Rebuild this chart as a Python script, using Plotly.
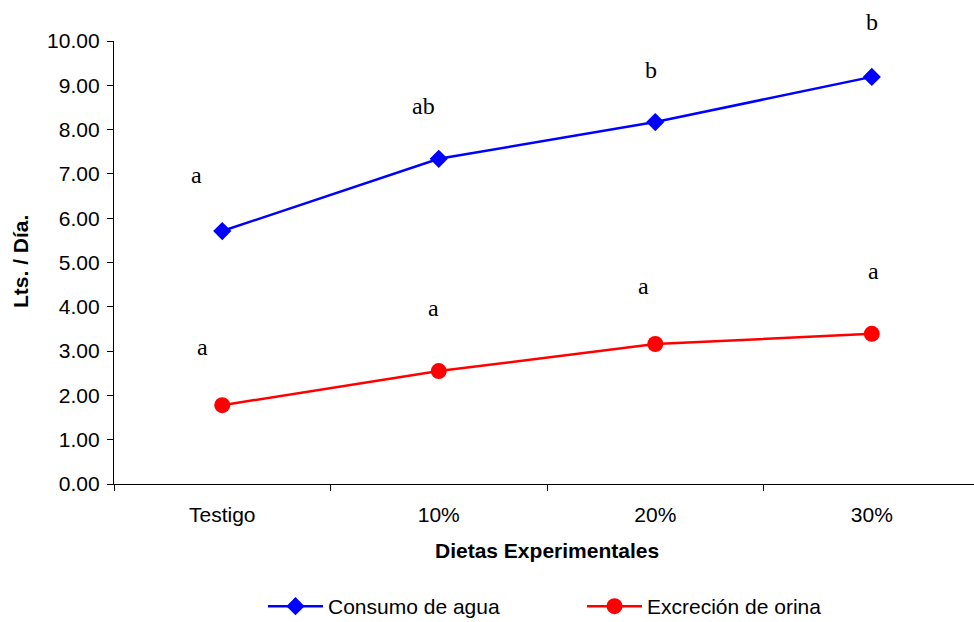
import plotly.graph_objects as go

categories = ["Testigo", "10%", "20%", "30%"]
consumo_agua = [5.71, 7.34, 8.17, 9.19]
excrecion_orina = [1.78, 2.55, 3.16, 3.39]

letras_consumo = ["a", "ab", "b", "b"]
letras_orina = ["a", "a", "a", "a"]
letras_consumo_y = [6.98, 8.53, 9.35, 10.43]
letras_orina_y = [3.09, 3.97, 4.47, 4.81]
letras_consumo_dx = [-0.12, -0.07, -0.02, 0.0]
letras_orina_dx = [-0.09, -0.025, -0.055, 0.01]

Y_MAX = 10

SANS = "Liberation Sans, Arial, sans-serif"
SERIF = "Liberation Serif, Times New Roman, serif"

fig = go.Figure()
fig.add_trace(go.Scatter(
    x=categories, y=consumo_agua, mode="lines+markers", name="Consumo de agua",
    line=dict(color="#0000FF", width=2.5),
    marker=dict(symbol="diamond", size=14, color="#0000FF"),
    cliponaxis=False,
))
fig.add_trace(go.Scatter(
    x=categories, y=excrecion_orina, mode="lines+markers", name="Excreción de orina",
    line=dict(color="#FF0000", width=2.5),
    marker=dict(symbol="circle", size=16, color="#FF0000"),
    cliponaxis=False,
))

annotations = []
for letters, ys, dxs in ((letras_consumo, letras_consumo_y, letras_consumo_dx),
                         (letras_orina, letras_orina_y, letras_orina_dx)):
    for i, (t, yv) in enumerate(zip(letters, ys)):
        annotations.append(dict(x=i + dxs[i], y=yv / Y_MAX, xref="x", yref="paper", text=t,
                                showarrow=False, font=dict(family=SERIF, size=24, color="black"),
                                xanchor="center", yanchor="middle"))

# axis titles
annotations.append(dict(x=(547 - 114) / 860, y=(484 - 550) / 443, xref="paper", yref="paper",
                        text="<b>Dietas Experimentales</b>", showarrow=False,
                        font=dict(family=SANS, size=21, color="black"),
                        xanchor="center", yanchor="middle"))
annotations.append(dict(x=(20 - 114) / 860, y=(484 - 262) / 443, xref="paper", yref="paper",
                        text="<b>Lts. / Día.</b>", showarrow=False, textangle=-90,
                        font=dict(family=SANS, size=21, color="black"),
                        xanchor="center", yanchor="middle"))

fig.update_layout(
    width=974, height=628,
    margin=dict(l=114, r=0, t=41, b=144),
    paper_bgcolor="white", plot_bgcolor="white",
    showlegend=True,
    legend=dict(orientation="h", x=(263 - 114) / 860, xanchor="left", y=(484 - 627) / 443,
                yanchor="bottom",
                font=dict(family=SANS, size=21, color="black"), entrywidth=249,
                itemwidth=55, bgcolor="rgba(0,0,0,0)"),
    annotations=annotations,
    font=dict(family=SANS, size=21, color="black"),
)
fig.update_xaxes(
    type="category", range=[-0.5, 3.472], tickson="boundaries", ticks="outside", ticklen=6,
    tickcolor="black", showline=True, linecolor="black", linewidth=1.3, showgrid=False,
    zeroline=False, tickfont=dict(family=SANS, size=21, color="black"), ticklabelstandoff=12,
)
fig.update_yaxes(
    range=[0, Y_MAX], dtick=1, tick0=0, tickformat=".2f", ticks="outside", ticklen=6,
    tickcolor="black", showline=True, linecolor="black", linewidth=1.3, showgrid=False,
    zeroline=False, tickfont=dict(family=SANS, size=21, color="black"), ticklabelstandoff=3,
)

fig.write_html("out.html", config={"displayModeBar": False},
               post_script="document.body.style.margin='0';document.body.style.overflow='hidden';")
